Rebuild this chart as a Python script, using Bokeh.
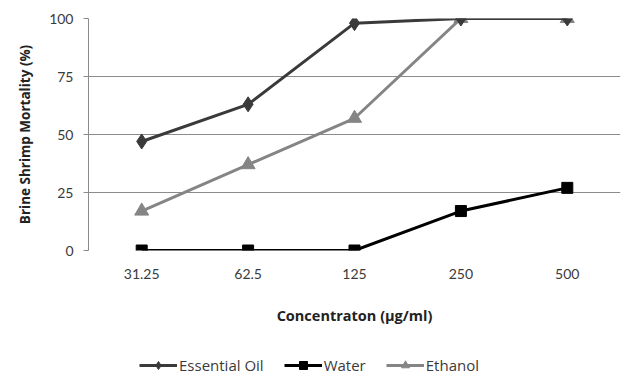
from bokeh.plotting import figure
from bokeh.models import Legend, LegendItem, Range1d, FixedTicker
from bokeh.layouts import column
from bokeh.embed import file_html
from bokeh.resources import INLINE

concentrations = ["31.25", "62.5", "125", "250", "500"]
essential_oil = [47, 63, 98, 100, 100]
water = [0, 0, 0, 17, 27]
ethanol = [17, 37, 57, 100, 100]
y_ticks = [0, 25, 50, 75, 100]
series_names = ["Essential Oil", "Water", "Ethanol"]

FONT = "Lato"
TITLE_FONT = "Open Sans"
EO_COLOR, W_COLOR, ET_COLOR = "#3a3a3a", "#000000", "#858585"

p = figure(x_range=concentrations, y_range=Range1d(0, 100),
           frame_width=532, frame_height=232,
           output_backend="svg", toolbar_location=None,
           min_border_left=88, min_border_right=20, min_border_top=18, min_border_bottom=90)
p.outline_line_color = None
p.background_fill_color = "white"
p.border_fill_color = "white"

p.line(concentrations, ethanol, line_color=ET_COLOR, line_width=3)
p.scatter(concentrations, ethanol, marker="triangle", size=14,
          fill_color=ET_COLOR, line_color=ET_COLOR)
p.line(concentrations, water, line_color=W_COLOR, line_width=3)
p.scatter(concentrations, water, marker="square", size=11,
          fill_color=W_COLOR, line_color=W_COLOR)
p.line(concentrations, essential_oil, line_color=EO_COLOR, line_width=3)
p.scatter(concentrations, essential_oil, marker="diamond", size=15,
          fill_color=EO_COLOR, line_color=EO_COLOR)

# Axes
p.yaxis.ticker = FixedTicker(ticks=y_ticks)
p.yaxis.axis_line_color = "#8c8c8c"
p.yaxis.major_tick_line_color = "#8c8c8c"
p.yaxis.major_tick_out = 5
p.yaxis.major_tick_in = 0
p.yaxis.minor_tick_line_color = None
p.yaxis.major_label_text_font = FONT
p.yaxis.major_label_text_font_size = "14px"
p.yaxis.major_label_text_color = "#3a3a3a"
p.yaxis.major_label_standoff = 10
p.yaxis.axis_label = "Brine Shrimp Mortality (%)"
p.yaxis.axis_label_text_font = TITLE_FONT
p.yaxis.axis_label_text_font_style = "bold"
p.yaxis.axis_label_text_font_size = "13.5px"
p.yaxis.axis_label_text_color = "#222222"
p.yaxis.axis_label_standoff = 12

p.xaxis.axis_line_color = None
p.xaxis.major_tick_line_color = None
p.xaxis.minor_tick_line_color = None
p.xaxis.major_label_text_font = FONT
p.xaxis.major_label_text_font_size = "14px"
p.xaxis.major_label_text_color = "#3a3a3a"
p.xaxis.major_label_standoff = 12
p.xaxis.axis_label = "Concentraton (µg/ml)"
p.xaxis.axis_label_text_font = TITLE_FONT
p.xaxis.axis_label_text_font_style = "bold"
p.xaxis.axis_label_text_font_size = "14.5px"
p.xaxis.axis_label_text_color = "#222222"
p.xaxis.axis_label_standoff = 24

p.xgrid.grid_line_color = None
p.ygrid.grid_line_color = "#8c8c8c"
p.ygrid.grid_line_width = 1

# Legend strip below the chart; its renderers use the same series but lie
# outside this strip's visible y range, so only the legend itself shows.
lg = figure(width=640, height=49, x_range=concentrations, y_range=Range1d(1000, 1001),
            output_backend="svg", toolbar_location=None,
            x_axis_type=None, y_axis_type=None, min_border=0)
lg.outline_line_color = None
lg.grid.visible = False
lg.background_fill_color = "white"
lg.border_fill_color = "white"

eo_l = lg.line(concentrations, essential_oil, line_color=EO_COLOR, line_width=3)
eo_m = lg.scatter(concentrations, essential_oil, marker="diamond", size=12,
                  fill_color=EO_COLOR, line_color=EO_COLOR)
w_l = lg.line(concentrations, water, line_color=W_COLOR, line_width=3)
w_m = lg.scatter(concentrations, water, marker="square", size=9,
                 fill_color=W_COLOR, line_color=W_COLOR)
et_l = lg.line(concentrations, ethanol, line_color=ET_COLOR, line_width=3)
et_m = lg.scatter(concentrations, ethanol, marker="triangle", size=11,
                  fill_color=ET_COLOR, line_color=ET_COLOR)

legend = Legend(items=[
    LegendItem(label=series_names[0], renderers=[eo_l, eo_m]),
    LegendItem(label=series_names[1], renderers=[w_l, w_m]),
    LegendItem(label=series_names[2], renderers=[et_l, et_m]),
], orientation="horizontal", location=(51, 14))
legend.label_text_font = TITLE_FONT
legend.label_text_font_size = "15px"
legend.label_text_color = "#3a3a3a"
legend.glyph_width = 38
legend.glyph_height = 20
legend.label_height = 20
legend.label_standoff = 2
legend.spacing = 20
legend.border_line_color = None
legend.background_fill_alpha = 0
legend.margin = 0
legend.padding = 0
lg.add_layout(legend, "center")

layout = column(p, lg, spacing=0)
open("out.html", "w").write(file_html(layout, INLINE))
